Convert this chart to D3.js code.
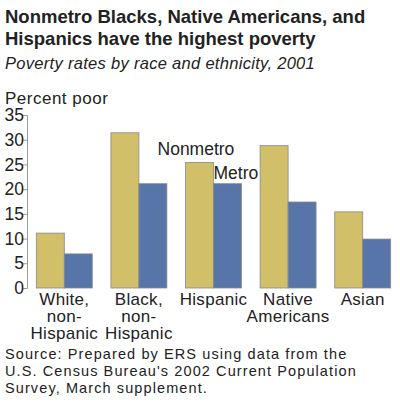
<!DOCTYPE html>
<html><head><meta charset="utf-8">
<script src="https://cdn.jsdelivr.net/npm/d3@7"></script>
<style>body{margin:0;background:#fff;font-family:"Liberation Sans",Arial,sans-serif}</style>
</head><body>
<script>
const groups = [["White,","non-","Hispanic"],["Black,","non-","Hispanic"],["Hispanic"],["Native","Americans"],["Asian"]];
const nonmetro = [11.1, 31.4, 25.4, 28.8, 15.4];
const metro = [6.9, 21.1, 21.1, 17.4, 9.9];
const yTicks = [0, 5, 10, 15, 20, 25, 30, 35];

const svg = d3.select("body").append("svg").attr("width", 400).attr("height", 408);

svg.append("text").attr("x", 5).attr("y", 23).attr("font-size", 18.5).attr("font-weight", "bold").attr("fill", "#222")
  .text("Nonmetro Blacks, Native Americans, and");
svg.append("text").attr("x", 5).attr("y", 45).attr("font-size", 18.5).attr("font-weight", "bold").attr("fill", "#222")
  .text("Hispanics have the highest poverty");
svg.append("text").attr("x", 5).attr("y", 69).attr("font-size", 16.5).attr("font-style", "italic").attr("fill", "#222")
  .attr("letter-spacing", 0.3).text("Poverty rates by race and ethnicity, 2001");
svg.append("text").attr("x", 5).attr("y", 104).attr("font-size", 17).attr("fill", "#222").attr("letter-spacing", 0.5).text("Percent poor");

const x = d3.scaleBand().domain(d3.range(groups.length)).range([27, 400]).paddingInner(0.25).paddingOuter(0.125);
const y = d3.scaleLinear().domain([0, 35]).range([288, 115]);

const g = svg.append("g");
groups.forEach((d, i) => {
  const bw = x.bandwidth() / 2;
  g.append("rect").attr("x", x(i)).attr("y", y(nonmetro[i])).attr("width", bw).attr("height", y(0) - y(nonmetro[i]))
    .attr("fill", "#d2bf6a").attr("stroke", "#888").attr("stroke-width", 0.8);
  g.append("rect").attr("x", x(i) + bw).attr("y", y(metro[i])).attr("width", bw).attr("height", y(0) - y(metro[i]))
    .attr("fill", "#5875a9").attr("stroke", "#888").attr("stroke-width", 0.8);
  d.forEach((t, j) => {
    svg.append("text").attr("x", x(i) + bw).attr("y", 305 + j * 17).attr("text-anchor", "middle")
      .attr("font-size", 17).attr("letter-spacing", 0.3).attr("fill", "#222").text(t);
  });
});

const ax = svg.append("g").attr("transform", "translate(27,0)")
  .call(d3.axisLeft(y).tickValues(yTicks).tickSize(5).tickPadding(2));
ax.select(".domain").attr("stroke", "#999");
ax.selectAll(".tick line").attr("stroke", "#999");
ax.selectAll("text").attr("font-size", 17.5).attr("fill", "#222").attr("font-family", "Liberation Sans, Arial, sans-serif").attr("dx", 4);

svg.append("text").attr("x", x(2) - 28).attr("y", 155).attr("font-size", 17.5).attr("fill", "#222").text("Nonmetro");
svg.append("text").attr("x", x(2) + x.bandwidth() / 2).attr("y", 179).attr("font-size", 17.5).attr("fill", "#222").text("Metro");

["Source: Prepared by ERS using data from the", "U.S. Census Bureau's 2002 Current Population", "Survey, March supplement."].forEach((t, j) => {
  svg.append("text").attr("x", 5).attr("y", 359 + j * 17).attr("font-size", 14.5).attr("letter-spacing", 1.1)
    .attr("fill", "#222").text(t);
});
</script>
</body></html>
